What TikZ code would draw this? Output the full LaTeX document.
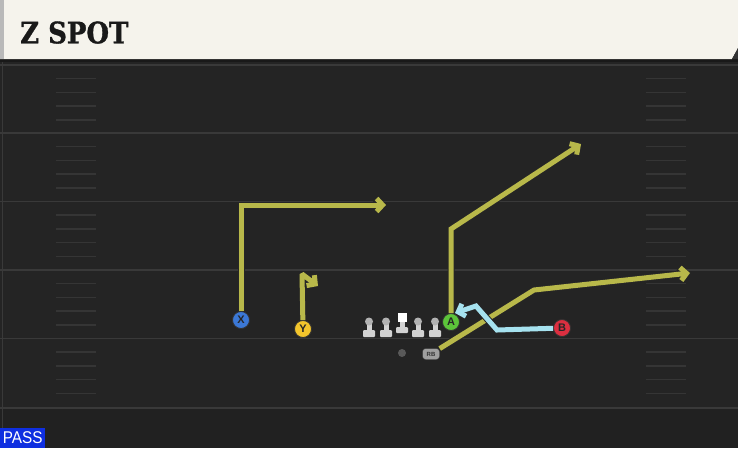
\documentclass[tikz,border=0pt]{standalone}
\usepackage{fontspec}
\usetikzlibrary{arrows.meta}
\definecolor{field}{HTML}{242424}
\definecolor{fieldline}{HTML}{393939}
\definecolor{hashline}{HTML}{353535}
\definecolor{header}{HTML}{F5F3EC}
\definecolor{route}{HTML}{B8B84A}
\definecolor{block}{HTML}{A6E2EF}
\definecolor{xblue}{HTML}{3B78D6}
\definecolor{ygold}{HTML}{F3C52C}
\definecolor{agreen}{HTML}{5CC43A}
\definecolor{bred}{HTML}{DB2F40}
\definecolor{passblue}{HTML}{0F2FE0}
\definecolor{lineman}{HTML}{D2D2D2}
\newfontfamily\titlefont{DejaVu Serif}[BoldFeatures={FakeBold=1.2}]
\newfontfamily\labelfont{Liberation Sans}

\begin{document}
\begin{tikzpicture}[x=1pt,y=-1pt,
		player/.style={circle,draw=black!80,line width=0.8pt,minimum size=17pt,inner sep=0pt,text=black!85,font=\labelfont\bfseries\fontsize{11}{11}\selectfont},
		runline/.style={draw=route,line width=5pt,miter limit=2,-{Straight Barb[length=6pt,width=13pt]},preaction={draw=black!85,line width=7pt,miter limit=2}},
		blockline/.style={runline,draw=block}]
	\useasboundingbox (0,0) rectangle (738,448);
	\fill[field] (0,0) rectangle (738,448);
	\fill[black!8!field] (0,409) rectangle (738,448);
	\fill[black!90] (0,56) rectangle (738,62);
	\fill[header] (0,0) -- (738,0) -- (738,48) -- (732,59) -- (0,59) -- cycle;
	\fill[gray!55] (0,0) rectangle (4,59);
	\fill[gray!40!black] (738,48) -- (738,59) -- (732,59) -- cycle;
	\draw[fieldline,line width=0.8pt] (2.5,62) -- (2.5,448);
	\foreach \yl in {65,133,201.5,270,338.5,408}
		\draw[fieldline,line width=1.8pt] (0,\yl) -- (738,\yl);
	\foreach \yl in {65,133,201.5,270,338.5}
		\foreach \k in {1,...,4} {
			\draw[hashline,line width=1.5pt] (56,\yl+13.7*\k) -- (96,\yl+13.7*\k);
			\draw[hashline,line width=1.5pt] (646,\yl+13.7*\k) -- (686,\yl+13.7*\k);
		}
	\node[anchor=base west,inner sep=0pt,text=black!90,font=\titlefont\bfseries\fontsize{29.5}{29.5}\selectfont] (title) at (20,43.3) {\scalebox{0.88}[1]{Z SPOT}};
	\node[anchor=south west,fill=passblue,text=white,minimum width=45pt,minimum height=20pt,inner sep=0pt,font=\labelfont\fontsize{17}{17}\selectfont] (pass) at (0,448) {\scalebox{0.9}[1]{PASS}};
	\foreach \lx in {369,386,418,435} {
		\fill[lineman,rounded corners=1pt] (\lx-6,330) rectangle (\lx+6,337);
		\fill[lineman] (\lx-2.5,322) rectangle (\lx+2.5,331);
		\fill[lineman!85!black] (\lx,321.5) circle (4);
	}
	\fill[lineman,rounded corners=1pt] (396,327) rectangle (408,333);
	\fill[lineman] (399.5,318) rectangle (404.5,328);
	\fill[white] (397.5,313) rectangle (406.5,322);
	\node[player,fill=xblue] (x) at (241,320) {X};
	\node[player,fill=ygold] (y) at (303,329) {Y};
	\node[player,fill=agreen] (a) at (451,322) {A};
	\node[player,fill=bred] (b) at (562,328) {B};
	\node[draw=black!80,fill=gray!75,rounded corners=3pt,minimum width=17pt,minimum height=11pt,inner sep=0pt,text=black!80,font=\labelfont\bfseries\fontsize{6}{6}\selectfont] (rb) at (431,354) {RB};
	\node[circle,fill=gray!70!black,minimum size=8pt,inner sep=0pt] (qb) at (402,353) {};
	\coordinate (xcut) at (241,205);
	\coordinate (xend) at (386,205);
	\coordinate (ycut) at (302,274);
	\coordinate (yend) at (318,286);
	\coordinate (acut) at (451,229);
	\coordinate (aend) at (581,144);
	\coordinate (rbcut) at (534,290);
	\coordinate (rbend) at (690,273);
	\coordinate (bcut) at (497,330);
	\coordinate (bturn) at (476,306);
	\coordinate (bend) at (455,313);
	\draw[runline] (x) -- (xcut) -- (xend);
	\draw[runline] (y) -- (ycut) -- (yend);
	\draw[runline] (a) -- (acut) -- (aend);
	\draw[runline] (rb) -- (rbcut) -- (rbend);
	\draw[blockline] (b) -- (bcut) -- (bturn) -- (bend);
\end{tikzpicture}
\end{document}
